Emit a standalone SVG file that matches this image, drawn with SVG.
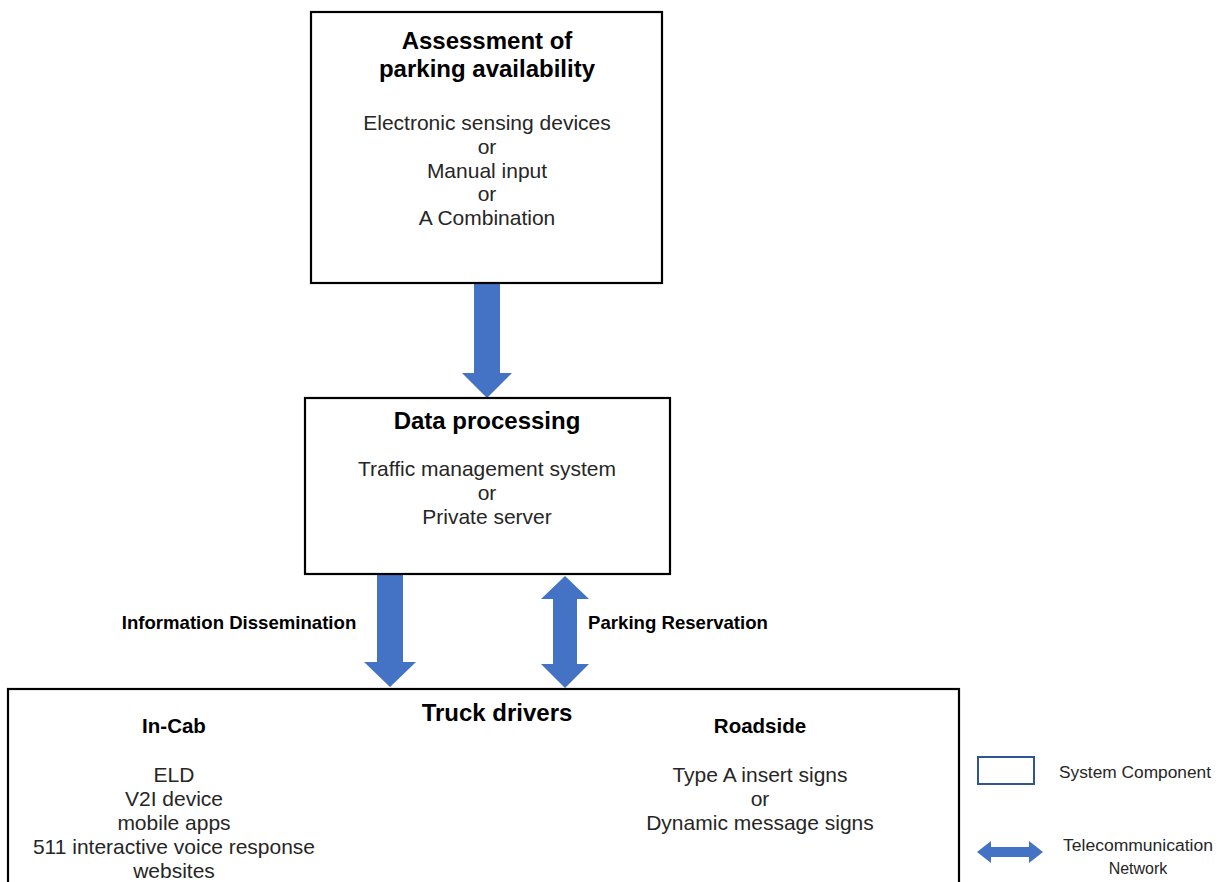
<svg xmlns="http://www.w3.org/2000/svg" width="1220" height="882" viewBox="0 0 1220 882">
<style>
.box{fill:#fff;stroke:#000;stroke-width:2.2}
.arr{fill:#4472C4}
.t{font-family:"Liberation Sans",Arial,sans-serif;text-anchor:middle;fill:#262626;font-size:21px}
.h{font-family:"Liberation Sans",Arial,sans-serif;text-anchor:middle;fill:#000;font-weight:bold;font-size:24px}
.s{font-family:"Liberation Sans",Arial,sans-serif;text-anchor:middle;fill:#000;font-weight:bold;font-size:20.5px}
.l{font-family:"Liberation Sans",Arial,sans-serif;fill:#000;font-weight:bold;font-size:18.6px}
.g{font-family:"Liberation Sans",Arial,sans-serif;fill:#262626;font-size:16px}
</style>
<rect width="1220" height="882" fill="#fff"/>
<g id="connectors">
<polygon class="arr" points="474,283 500,283 500,373 512,373 487,398 462,373 474,373"/>
<polygon class="arr" points="377,574 403,574 403,662 416,662 390,687 364,662 377,662"/>
<polygon class="arr" points="565,576 589,599 577,599 577,664 589,664 565,688 541,664 553,664 553,599 541,599"/>
<text class="l" x="239" y="629" text-anchor="middle">Information Dissemination</text>
<text class="l" x="678" y="629" text-anchor="middle">Parking Reservation</text>
</g>
<g id="assessment">
<rect class="box" x="311" y="12" width="351" height="271"/>
<text class="h" x="487" y="49">Assessment of</text>
<text class="h" x="487" y="77">parking availability</text>
<text class="t" x="487" y="130">Electronic sensing devices</text>
<text class="t" x="487" y="154">or</text>
<text class="t" x="487" y="178">Manual input</text>
<text class="t" x="487" y="201">or</text>
<text class="t" x="487" y="225">A Combination</text>
</g>
<g id="data-processing">
<rect class="box" x="305" y="398" width="365" height="176"/>
<text class="h" x="487" y="429">Data processing</text>
<text class="t" x="487" y="476">Traffic management system</text>
<text class="t" x="487" y="500">or</text>
<text class="t" x="487" y="524">Private server</text>
</g>
<g id="truck-drivers">
<rect class="box" x="8" y="689" width="951" height="220"/>
<text class="h" x="497" y="721">Truck drivers</text>
<text class="s" x="174" y="733">In-Cab</text>
<text class="t" x="174" y="782">ELD</text>
<text class="t" x="174" y="806">V2I device</text>
<text class="t" x="174" y="830">mobile apps</text>
<text class="t" x="174" y="854">511 interactive voice response</text>
<text class="t" x="174" y="878">websites</text>
<text class="s" x="760" y="733">Roadside</text>
<text class="t" x="760" y="782">Type A insert signs</text>
<text class="t" x="760" y="806">or</text>
<text class="t" x="760" y="830">Dynamic message signs</text>
</g>
<g id="legend">
<rect x="978" y="757" width="56" height="27" fill="#fff" stroke="#2F5597" stroke-width="2"/>
<text class="g" x="1059" y="778" textLength="152" lengthAdjust="spacingAndGlyphs">System Component</text>
<polygon class="arr" points="977,852 991,841 991,847 1029,847 1029,841 1043,852 1029,863 1029,857 991,857 991,863"/>
<text class="g" x="1063" y="851" textLength="150" lengthAdjust="spacingAndGlyphs">Telecommunication</text>
<text class="g" x="1138" y="874" text-anchor="middle">Network</text>
</g>
</svg>
